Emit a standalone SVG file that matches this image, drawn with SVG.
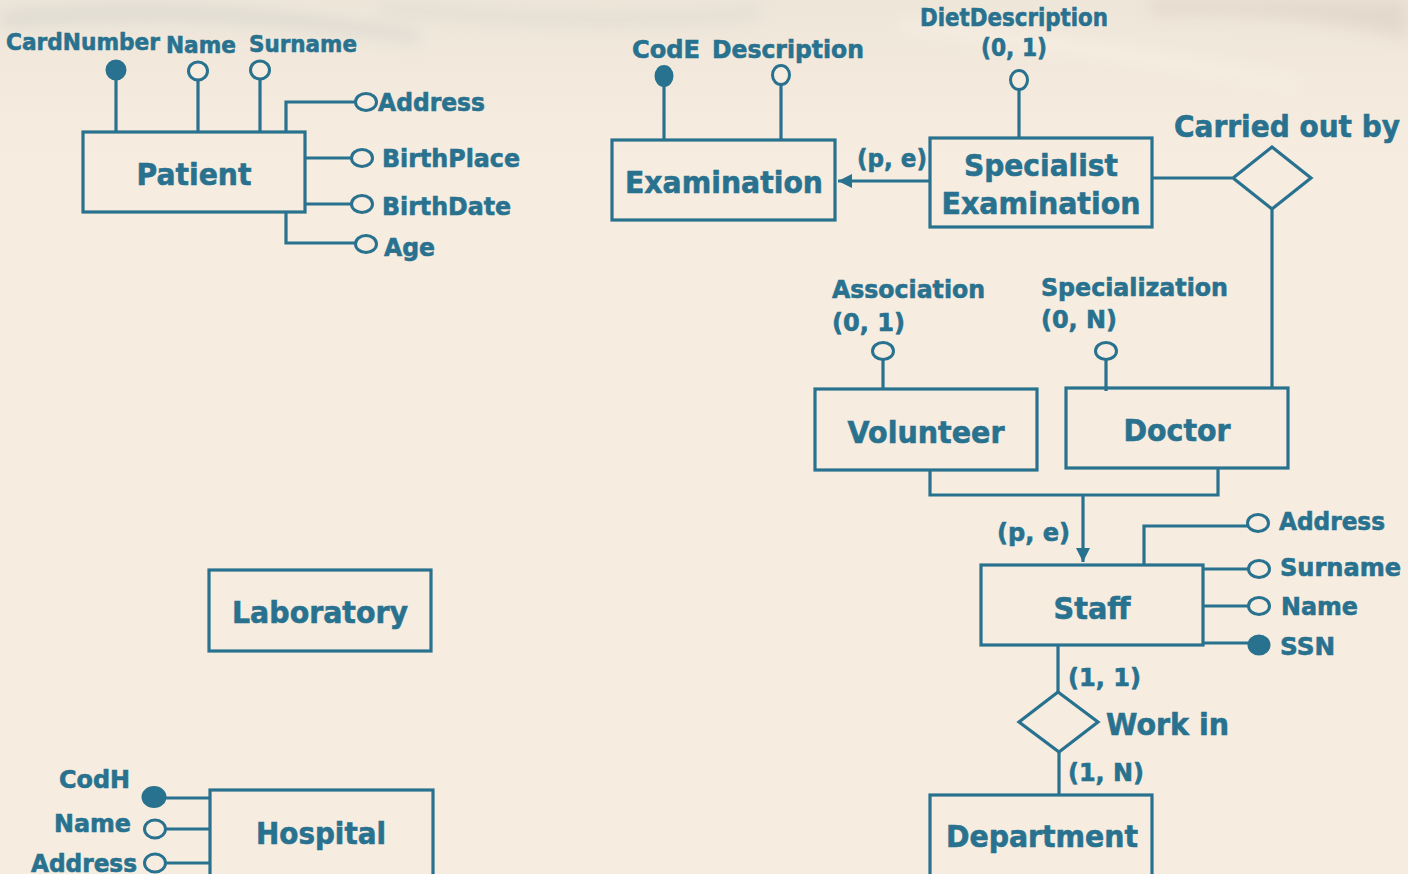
<svg xmlns="http://www.w3.org/2000/svg" width="1408" height="874" viewBox="0 0 1408 874">
<defs>
<style>
.t{font-family:"DejaVu Sans","Verdana",sans-serif;font-weight:bold;fill:#29728f;stroke:#29728f;stroke-width:0.6}
.e{font-size:30px}
.a{font-size:24px}
.s{fill:none;stroke:#29728f;stroke-width:3.2}
.box{fill:none;stroke:#29728f;stroke-width:3.2}
.o{fill:#f6ecdf;stroke:#29728f;stroke-width:3}
.f{fill:#29728f;stroke:#29728f;stroke-width:2}
</style>
<linearGradient id="bg" x1="0" y1="0" x2="0" y2="1">
<stop offset="0" stop-color="#efe6da"/>
<stop offset="0.18" stop-color="#f6ecdf"/>
<stop offset="1" stop-color="#f6ecdf"/>
</linearGradient>
<filter id="blur" x="-20%" y="-50%" width="140%" height="200%"><feGaussianBlur stdDeviation="8"/></filter>
<marker id="arr" viewBox="0 0 10 10" refX="10" refY="5" markerWidth="4.5" markerHeight="4.5" orient="auto" markerUnits="strokeWidth">
<path d="M0,0 L10,5 L0,10 z" fill="#29728f"/>
</marker>
</defs>
<rect width="1408" height="874" fill="url(#bg)"/>
<g filter="url(#blur)" opacity="0.5">
<path d="M0,10 Q200,-10 420,30 L420,45 Q200,10 0,30 z" fill="#cfd3cc"/>
<path d="M380,0 Q600,20 760,5 L760,20 Q600,35 380,15 z" fill="#d8d6cc"/>
<path d="M1150,0 L1408,0 L1408,40 Q1300,10 1150,15 z" fill="#d6cbbd"/>
<path d="M900,20 Q1100,40 1300,80 L1300,90 Q1100,55 900,30 z" fill="#fbf5ea"/>
</g>

<g id="connectors">
<line class="s" x1="930" y1="181" x2="838" y2="181" marker-end="url(#arr)"/>
<text class="t" x="857" y="167" font-size="24" textLength="70" lengthAdjust="spacingAndGlyphs">(p, e)</text>
<line class="s" x1="1152" y1="178" x2="1232" y2="178"/>
<line class="s" x1="1272" y1="209" x2="1272" y2="388"/>
<polyline class="s" points="930,470 930,495 1218,495 1218,468"/>
<line class="s" x1="1083" y1="495" x2="1083" y2="562" marker-end="url(#arr)"/>
<text class="t a" x="997" y="541" textLength="73" lengthAdjust="spacingAndGlyphs">(p, e)</text>
<line class="s" x1="1058" y1="645" x2="1058" y2="692"/>
<line class="s" x1="1059" y1="752" x2="1059" y2="795"/>
<text class="t a" x="1068" y="686" textLength="73" lengthAdjust="spacingAndGlyphs">(1, 1)</text>
<text class="t a" x="1068" y="781" textLength="76" lengthAdjust="spacingAndGlyphs">(1, N)</text>
</g>

<g id="patient">
<rect class="box" x="83" y="132" width="222" height="80"/>
<text class="t e" x="194" y="185" text-anchor="middle" textLength="115" lengthAdjust="spacingAndGlyphs">Patient</text>
<line class="s" x1="116" y1="78" x2="116" y2="132"/>
<ellipse class="f" cx="116" cy="70" rx="9.5" ry="9.5"/>
<text class="t" x="6" y="50" font-size="23" textLength="154" lengthAdjust="spacingAndGlyphs">CardNumber</text>
<line class="s" x1="198" y1="80" x2="198" y2="132"/>
<ellipse class="o" cx="198" cy="71" rx="9.5" ry="9"/>
<text class="t" x="166" y="53" font-size="23" textLength="70" lengthAdjust="spacingAndGlyphs">Name</text>
<line class="s" x1="260" y1="79" x2="260" y2="132"/>
<ellipse class="o" cx="260" cy="70" rx="9.5" ry="9"/>
<text class="t" x="249" y="52" font-size="23" textLength="108" lengthAdjust="spacingAndGlyphs">Surname</text>
<polyline class="s" points="286,132 286,102 356,102"/>
<ellipse class="o" cx="366" cy="102" rx="10.5" ry="8.5"/>
<text class="t a" x="378" y="111" textLength="107" lengthAdjust="spacingAndGlyphs">Address</text>
<line class="s" x1="305" y1="158" x2="352" y2="158"/>
<ellipse class="o" cx="362" cy="158" rx="10.5" ry="8.5"/>
<text class="t a" x="382" y="167" textLength="138" lengthAdjust="spacingAndGlyphs">BirthPlace</text>
<line class="s" x1="305" y1="204" x2="352" y2="204"/>
<ellipse class="o" cx="362" cy="204" rx="10.5" ry="8.5"/>
<text class="t a" x="382" y="215" textLength="129" lengthAdjust="spacingAndGlyphs">BirthDate</text>
<polyline class="s" points="286,212 286,243 356,243"/>
<ellipse class="o" cx="366" cy="244" rx="10.5" ry="8.5"/>
<text class="t a" x="384" y="256" textLength="51" lengthAdjust="spacingAndGlyphs">Age</text>
</g>

<g id="examination">
<rect class="box" x="612" y="140" width="223" height="80"/>
<text class="t" x="724" y="193" font-size="31" text-anchor="middle" textLength="198" lengthAdjust="spacingAndGlyphs">Examination</text>
<line class="s" x1="664" y1="85" x2="664" y2="140"/>
<ellipse class="f" cx="664" cy="76" rx="8.5" ry="10"/>
<text class="t" x="632" y="58" font-size="25" textLength="68" lengthAdjust="spacingAndGlyphs">CodE</text>
<line class="s" x1="781" y1="84" x2="781" y2="140"/>
<ellipse class="o" cx="781" cy="75" rx="8.5" ry="9.5"/>
<text class="t" x="712" y="58" font-size="25" textLength="152" lengthAdjust="spacingAndGlyphs">Description</text>
</g>

<g id="specialist-examination">
<rect class="box" x="930" y="138" width="222" height="89"/>
<text class="t" x="1041" y="176" font-size="31" text-anchor="middle" textLength="154" lengthAdjust="spacingAndGlyphs">Specialist</text>
<text class="t" x="1041" y="214" font-size="31" text-anchor="middle" textLength="199" lengthAdjust="spacingAndGlyphs">Examination</text>
<line class="s" x1="1019" y1="89" x2="1019" y2="138"/>
<ellipse class="o" cx="1019" cy="80" rx="8.5" ry="9.5"/>
<text class="t" x="920" y="26" font-size="24" textLength="188" lengthAdjust="spacingAndGlyphs">DietDescription</text>
<text class="t" x="981" y="56" font-size="24" textLength="66" lengthAdjust="spacingAndGlyphs">(0, 1)</text>
</g>

<g id="carried-out-by">
<polygon class="box" points="1272,147 1311,178 1272,209 1233,178"/>
<text class="t" x="1174" y="137" font-size="31" textLength="226" lengthAdjust="spacingAndGlyphs">Carried out by</text>
</g>

<g id="volunteer">
<rect class="box" x="815" y="389" width="222" height="81"/>
<text class="t e" x="926" y="443" text-anchor="middle" textLength="157" lengthAdjust="spacingAndGlyphs">Volunteer</text>
<line class="s" x1="883" y1="359" x2="883" y2="389"/>
<ellipse class="o" cx="883" cy="351" rx="10.5" ry="8.5"/>
<text class="t a" x="832" y="298" textLength="153" lengthAdjust="spacingAndGlyphs">Association</text>
<text class="t a" x="832" y="331" textLength="73" lengthAdjust="spacingAndGlyphs">(0, 1)</text>
</g>

<g id="doctor">
<rect class="box" x="1066" y="388" width="222" height="80"/>
<text class="t e" x="1177" y="441" text-anchor="middle" textLength="107" lengthAdjust="spacingAndGlyphs">Doctor</text>
<line class="s" x1="1106" y1="359" x2="1106" y2="391"/>
<ellipse class="o" cx="1106" cy="351" rx="10.5" ry="8.5"/>
<text class="t a" x="1041" y="296" textLength="187" lengthAdjust="spacingAndGlyphs">Specialization</text>
<text class="t a" x="1041" y="328" textLength="76" lengthAdjust="spacingAndGlyphs">(0, N)</text>
</g>

<g id="staff">
<rect class="box" x="981" y="565" width="222" height="80"/>
<text class="t e" x="1092" y="619" text-anchor="middle" textLength="77" lengthAdjust="spacingAndGlyphs">Staff</text>
<polyline class="s" points="1144,565 1144,526 1249,526"/>
<ellipse class="o" cx="1258" cy="523" rx="10.5" ry="8.5"/>
<text class="t a" x="1279" y="530" textLength="106" lengthAdjust="spacingAndGlyphs">Address</text>
<line class="s" x1="1203" y1="569" x2="1249" y2="569"/>
<ellipse class="o" cx="1259" cy="569" rx="10.5" ry="8.5"/>
<text class="t a" x="1280" y="576" textLength="121" lengthAdjust="spacingAndGlyphs">Surname</text>
<line class="s" x1="1203" y1="606" x2="1249" y2="606"/>
<ellipse class="o" cx="1259" cy="606" rx="10.5" ry="8.5"/>
<text class="t a" x="1281" y="615" textLength="77" lengthAdjust="spacingAndGlyphs">Name</text>
<line class="s" x1="1203" y1="643" x2="1249" y2="643"/>
<ellipse class="f" cx="1259" cy="645" rx="10.5" ry="9.5"/>
<text class="t a" x="1280" y="655" textLength="55" lengthAdjust="spacingAndGlyphs">SSN</text>
</g>

<g id="work-in">
<polygon class="box" points="1058,692 1098,722 1059,752 1019,722"/>
<text class="t" x="1106" y="735" font-size="30" textLength="123" lengthAdjust="spacingAndGlyphs">Work in</text>
</g>

<g id="department">
<rect class="box" x="930" y="795" width="222" height="90"/>
<text class="t e" x="1042" y="847" text-anchor="middle" textLength="192" lengthAdjust="spacingAndGlyphs">Department</text>
</g>

<g id="laboratory">
<rect class="box" x="209" y="570" width="222" height="81"/>
<text class="t e" x="320" y="623" text-anchor="middle" textLength="176" lengthAdjust="spacingAndGlyphs">Laboratory</text>
</g>

<g id="hospital">
<rect class="box" x="210" y="790" width="223" height="95"/>
<text class="t e" x="321" y="844" text-anchor="middle" textLength="130" lengthAdjust="spacingAndGlyphs">Hospital</text>
<line class="s" x1="165" y1="798" x2="210" y2="798"/>
<ellipse class="f" cx="154" cy="797" rx="11.5" ry="10"/>
<text class="t a" x="59" y="788" textLength="71" lengthAdjust="spacingAndGlyphs">CodH</text>
<line class="s" x1="165" y1="829" x2="210" y2="829"/>
<ellipse class="o" cx="155" cy="829" rx="10.5" ry="9"/>
<text class="t a" x="54" y="832" textLength="77" lengthAdjust="spacingAndGlyphs">Name</text>
<line class="s" x1="165" y1="863" x2="210" y2="863"/>
<ellipse class="o" cx="155" cy="863" rx="10.5" ry="9"/>
<text class="t a" x="31" y="872" textLength="106" lengthAdjust="spacingAndGlyphs">Address</text>
</g>
</svg>
